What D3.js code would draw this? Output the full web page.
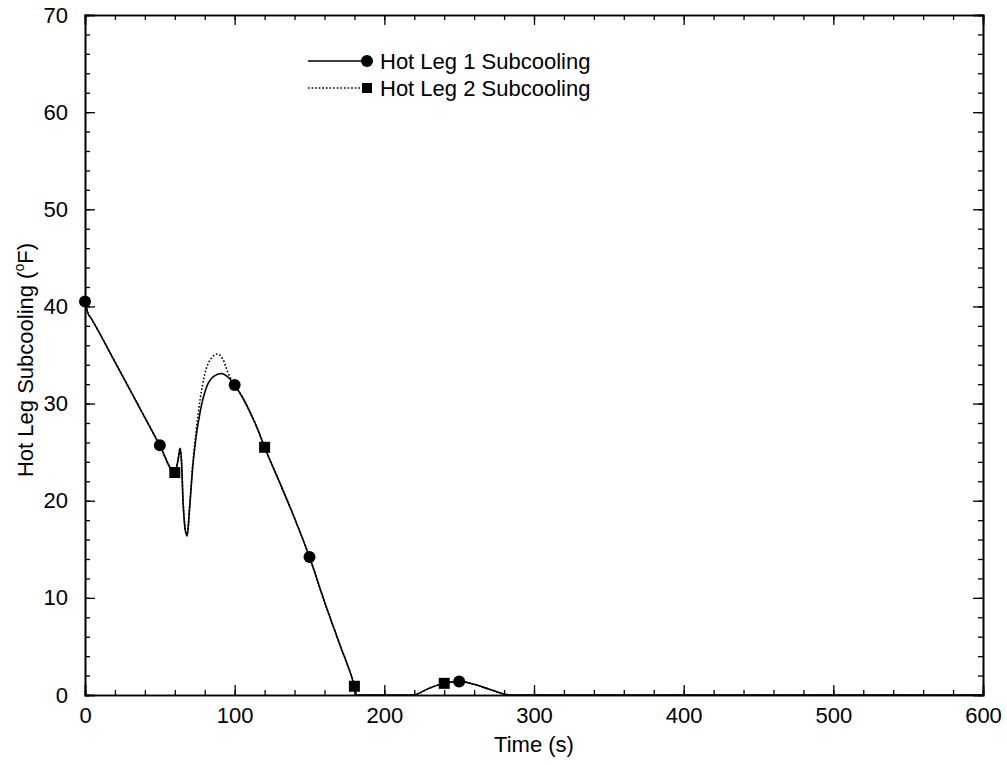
<!DOCTYPE html>
<html>
<head>
<meta charset="utf-8">
<script src="https://cdn.jsdelivr.net/npm/d3@7"></script>
<style>
  body { margin: 0; background: #fff; }
  text { font-family: "Liberation Sans", Arial, sans-serif; fill: #000; }
</style>
</head>
<body>
<svg id="chart" width="1007" height="765"></svg>
<script>
"use strict";

// Hot Leg 1 (solid line, circle markers): [time s, subcooling F]
const leg1_time = [0, 2, 4, 20, 35, 50, 60, 62.5, 63.5, 64.5, 65.5, 67, 68.2, 70, 72, 74, 77, 81, 86, 91, 95, 100, 105, 110, 115, 120, 130, 140, 150, 160, 170, 180, 181.5, 219, 230, 240, 250, 260, 270, 284, 600];
const leg1_value = [40.5, 39.3, 38.8, 34.3, 30.0, 25.7, 22.9, 24.5, 25.4, 24.0, 20.0, 17.0, 16.4, 19.5, 23.5, 26.3, 29.2, 31.6, 32.8, 33.1, 32.8, 31.9, 30.7, 29.2, 27.5, 25.5, 21.9, 18.2, 14.2, 9.6, 5.3, 0.9, 0, 0, 0.7, 1.2, 1.4, 1.1, 0.6, 0, 0];

// Hot Leg 2 (dotted line, square markers)
const leg2_time = [0, 2, 4, 20, 35, 50, 60, 62.5, 63.5, 64.5, 65.5, 67, 68.2, 70, 72, 74, 77, 80, 84, 88.5, 92, 96, 100, 105, 110, 115, 120, 130, 140, 150, 160, 170, 180, 181.5, 219, 230, 240, 250, 260, 270, 284, 600];
const leg2_value = [40.5, 39.3, 38.8, 34.3, 30.0, 25.7, 22.9, 24.5, 25.4, 24.0, 20.0, 17.0, 16.4, 19.5, 23.8, 26.8, 30.5, 33.0, 34.6, 35.1, 34.6, 33.0, 31.9, 30.7, 29.2, 27.5, 25.5, 21.9, 18.2, 14.2, 9.6, 5.3, 0.9, 0, 0, 0.7, 1.2, 1.4, 1.1, 0.6, 0, 0];

// marker positions
const leg1_marker_time = [0, 50, 100, 150, 250];
const leg1_marker_value = [40.5, 25.7, 31.9, 14.2, 1.4];
const leg2_marker_time = [60, 120, 180, 240];
const leg2_marker_value = [22.9, 25.5, 0.9, 1.2];

const legend_labels = ["Hot Leg 1 Subcooling", "Hot Leg 2 Subcooling"];
const x_major_ticks = [0, 100, 200, 300, 400, 500, 600];
const y_major_ticks = [0, 10, 20, 30, 40, 50, 60, 70];

const svg = d3.select("#chart");
const plotLeft = 85, plotRight = 983, plotTop = 15, plotBottom = 695;

const x = d3.scaleLinear().domain([0, 600]).range([plotLeft, plotRight]);
const y = d3.scaleLinear().domain([0, 70]).range([plotBottom, plotTop]);

const x_minor = d3.range(0, 601, 20);
const y_minor = d3.range(0, 71, 2);

function drawAxis(axisFn, scale, ticks, size, labels, translate) {
  const g = svg
    .append("g")
    .attr("transform", translate)
    .call(
      axisFn(scale)
        .tickValues(ticks)
        .tickSize(-size)
        .tickPadding(axisFn === d3.axisLeft ? 17 : 12)
        .tickFormat(labels ? d3.format("d") : "")
    );
  g.select(".domain").attr("stroke", "#000").attr("stroke-width", 1.6);
  g.selectAll(".tick line").attr("stroke", "#000").attr("stroke-width", 1.3);
  g.selectAll(".tick text").attr("font-size", 22).attr("font-family", "Liberation Sans, Arial, sans-serif");
  return g;
}

// minor ticks on all four sides
drawAxis(d3.axisBottom, x, x_minor, 5, false, `translate(0,${plotBottom})`);
drawAxis(d3.axisTop, x, x_minor, 5, false, `translate(0,${plotTop})`);
drawAxis(d3.axisLeft, y, y_minor, 5, false, `translate(${plotLeft},0)`);
drawAxis(d3.axisRight, y, y_minor, 5, false, `translate(${plotRight},0)`);

// major ticks
drawAxis(d3.axisBottom, x, x_major_ticks, 10, true, `translate(0,${plotBottom})`);
drawAxis(d3.axisTop, x, x_major_ticks, 10, false, `translate(0,${plotTop})`);
drawAxis(d3.axisLeft, y, y_major_ticks, 10, true, `translate(${plotLeft},0)`);
drawAxis(d3.axisRight, y, y_major_ticks, 10, false, `translate(${plotRight},0)`);

// axis titles
svg
  .append("text")
  .attr("x", (plotLeft + plotRight) / 2)
  .attr("y", 752)
  .attr("text-anchor", "middle")
  .attr("font-size", 22)
  .text("Time (s)");

const ytitle = svg
  .append("text")
  .attr("transform", `translate(33,${(plotTop + plotBottom) / 2 + 5}) rotate(-90)`)
  .attr("text-anchor", "middle")
  .attr("font-size", 22);
ytitle.append("tspan").text("Hot Leg Subcooling (");
ytitle.append("tspan").attr("font-size", 14).attr("dy", -9).text("o");
ytitle.append("tspan").attr("dy", 9).text("F)");

// lines
const line = d3
  .line()
  .x((d) => x(d[0]))
  .y((d) => y(d[1]))
  .curve(d3.curveMonotoneX);

const leg1 = leg1_time.map((t, i) => [t, leg1_value[i]]);
const leg2 = leg2_time.map((t, i) => [t, leg2_value[i]]);

svg
  .append("path")
  .datum(leg2)
  .attr("d", line)
  .attr("fill", "none")
  .attr("stroke", "#000")
  .attr("stroke-width", 1.6)
  .attr("stroke-dasharray", "1.6,2");

svg
  .append("path")
  .datum(leg1)
  .attr("d", line)
  .attr("fill", "none")
  .attr("stroke", "#000")
  .attr("stroke-width", 1.6);

// markers
svg
  .append("g")
  .selectAll("circle")
  .data(leg1_marker_time.map((t, i) => [t, leg1_marker_value[i]]))
  .enter()
  .append("circle")
  .attr("cx", (d) => x(d[0]))
  .attr("cy", (d) => y(d[1]))
  .attr("r", 6)
  .attr("fill", "#000");

svg
  .append("g")
  .selectAll("rect")
  .data(leg2_marker_time.map((t, i) => [t, leg2_marker_value[i]]))
  .enter()
  .append("rect")
  .attr("x", (d) => x(d[0]) - 5.5)
  .attr("y", (d) => y(d[1]) - 5.5)
  .attr("width", 11)
  .attr("height", 11)
  .attr("fill", "#000");

// legend
const legend = svg.append("g").attr("transform", "translate(308,61)");

legend.append("line").attr("x1", 0).attr("x2", 58).attr("y1", 0).attr("y2", 0)
  .attr("stroke", "#000").attr("stroke-width", 1.4);
legend.append("circle").attr("cx", 59).attr("cy", 0).attr("r", 6).attr("fill", "#000");
legend.append("line").attr("x1", 0).attr("x2", 58).attr("y1", 27).attr("y2", 27)
  .attr("stroke", "#000").attr("stroke-width", 1.4).attr("stroke-dasharray", "1.6,2");
legend.append("rect").attr("x", 54).attr("y", 22).attr("width", 10).attr("height", 10).attr("fill", "#000");

legend
  .selectAll("text")
  .data(legend_labels)
  .enter()
  .append("text")
  .attr("x", 72)
  .attr("y", (d, i) => i * 27)
  .attr("dy", "0.35em")
  .attr("font-size", 22)
  .text((d) => d);
</script>
</body>
</html>
